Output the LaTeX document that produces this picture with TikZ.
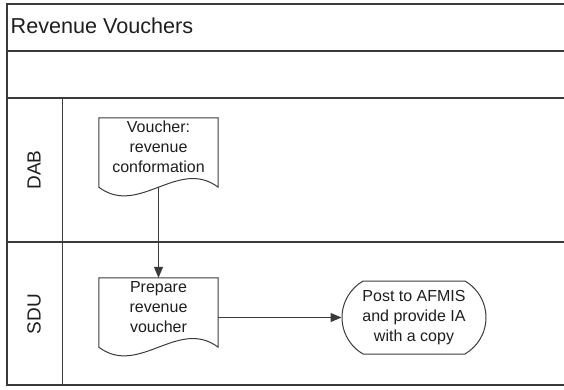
\documentclass[tikz,border=0pt]{standalone}
\usepackage{fontspec}
\setmainfont{Liberation Sans}
\usetikzlibrary{arrows.meta,shapes.misc}
\definecolor{linegray}{HTML}{3A3A3A}
\definecolor{inkgray}{HTML}{1E1E1E}
\tikzset{
  frameline/.style={draw=linegray,line width=1.3pt},
  docbox/.style={minimum width=119pt,minimum height=69pt,inner sep=0pt},
  doctext/.style={text=inkgray,font=\fontsize{16}{20}\selectfont,align=center},
  laneabel/.style={text=inkgray,font=\fontsize{19}{22}\selectfont,rotate=90},
  docline/.style={draw=linegray,line width=1pt,fill=white},
  termbox/.style={rounded rectangle,rounded rectangle arc length=120,
    draw=linegray,line width=1pt,fill=white,minimum width=144pt,minimum height=73pt,
    inner sep=0pt,text=inkgray,font=\fontsize{16}{20}\selectfont,align=center},
  flow/.style={draw=linegray,line width=1pt,-{Triangle[length=11pt,width=9pt]}}
}
\begin{document}
\begin{tikzpicture}[x=1pt,y=-1pt]
\useasboundingbox (0,0) rectangle (564,389);
% pool frame and lanes
\draw[frameline] (564,4) -- (7,4) -- (7,385) -- (564,385);
\draw[frameline] (7,51) -- (564,51);
\draw[frameline] (7,98) -- (564,98);
\draw[frameline] (7,242) -- (564,242);
\draw[draw=linegray,line width=1pt] (62,98) -- (62,385);
\node[anchor=base west,text=inkgray,font=\fontsize{21.6}{24}\selectfont,inner sep=0pt] (title) at (10.5,33.5) {Revenue Vouchers};
\node[laneabel] (dab) at (34,170) {DAB};
\node[laneabel] (sdu) at (34,314) {SDU};
% documents
\node[docbox] (d1) at (158.5,152.5) {};
\draw[docline] (d1.south east) -- (d1.north east) -- (d1.north west) -- (d1.south west)
  .. controls +(40,30) and +(-40,-30) .. (d1.south east) -- cycle;
\node[doctext] (t1) at (158.5,147) {Voucher:\\revenue\\conformation};
\node[docbox] (d2) at (158.5,312.5) {};
\draw[docline] (d2.south east) -- (d2.north east) -- (d2.north west) -- (d2.south west)
  .. controls +(40,30) and +(-40,-30) .. (d2.south east) -- cycle;
\node[doctext] (t2) at (158.5,307) {Prepare\\revenue\\voucher};
% terminator
\node[termbox] (post) at (414,317.5) {Post to AFMIS\\and provide IA\\with a copy};
% connectors
\draw[flow] (d1.south) -- (d2.north);
\draw[flow] (post.west -| d2.east) -- (post.west);
\end{tikzpicture}
\end{document}
